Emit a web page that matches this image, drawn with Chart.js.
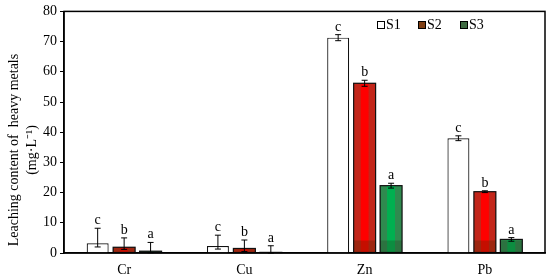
<!DOCTYPE html>
<html><head><meta charset="utf-8">
<script src="https://cdn.jsdelivr.net/npm/chart.js@4.4.0/dist/chart.umd.min.js"></script>
<style>html,body{margin:0;padding:0;background:#fff}</style>
</head><body>
<canvas id="c" width="550" height="279"></canvas>
<script>
const categories = ['Cr', 'Cu', 'Zn', 'Pb'];
const seriesNames = ['S1', 'S2', 'S3'];
const s1 = [3.2, 2.3, 71.3, 38.0];
const s2 = [1.9, 1.5, 56.2, 20.3];
const s3 = [0.6, 0.2, 22.3, 4.5];
const s1ErrUp = [5.0, 3.6, 1.0, 0.8];
const s1ErrDown = [1.2, 1.0, 1.0, 0.8];
const s2ErrUp = [3.1, 2.8, 1.0, 0.3];
const s2ErrDown = [0.7, 1.0, 1.0, 0.3];
const s3ErrUp = [2.9, 2.2, 0.8, 0.6];
const s3ErrDown = [0.5, 0.2, 0.8, 0.6];
const s1Letters = ['c', 'c', 'c', 'c'];
const s2Letters = ['b', 'b', 'b', 'b'];
const s3Letters = ['a', 'a', 'a', 'a'];
const yTitle = 'Leaching content of  heavy metals';
const yUnit = '(mg\u00B7L\u207B\u00B9)';

const FONT = '"Liberation Serif", "Times New Roman", serif';
const errUp = [s1ErrUp, s2ErrUp, s3ErrUp];
const errDown = [s1ErrDown, s2ErrDown, s3ErrDown];
const letters = [s1Letters, s2Letters, s3Letters];
const legendColors = ['#ffffff', '#7e3d12', '#3f6b42'];
const gradStops = [null, ['#c2261a', '#ff0000'], ['#2f8a4f', '#00b050']];

const barStyle = {
  id: 'barStyle',
  afterDatasetDraw(chart, args) {
    const i = args.index;
    if (!gradStops[i]) return;
    const ctx = chart.ctx;
    const meta = chart.getDatasetMeta(i);
    meta.data.forEach(el => {
      const p = el.getProps(['x', 'y', 'base', 'width'], true);
      const l = p.x - p.width / 2, r = p.x + p.width / 2;
      const g = ctx.createLinearGradient(l, 0, r, 0);
      g.addColorStop(0, gradStops[i][0]);
      g.addColorStop(0.3, gradStops[i][0]);
      g.addColorStop(0.34, gradStops[i][1]);
      g.addColorStop(0.66, gradStops[i][1]);
      g.addColorStop(0.7, gradStops[i][0]);
      g.addColorStop(1, gradStops[i][0]);
      ctx.save();
      ctx.fillStyle = g;
      ctx.fillRect(l, p.y, p.width, p.base - p.y);
      const dh = Math.min(12, p.base - p.y);
      ctx.fillStyle = i === 1 ? 'rgba(90,40,0,0.35)' : 'rgba(40,60,30,0.3)';
      ctx.fillRect(l, p.base - dh, p.width, dh);
      ctx.strokeStyle = '#111';
      ctx.lineWidth = 1.2;
      ctx.strokeRect(l, p.y, p.width, p.base - p.y);
      ctx.restore();
    });
  }
};

const extras = {
  id: 'extras',
  afterDraw(chart) {
    const ctx = chart.ctx;
    const ys = chart.scales.y;
    const a = chart.chartArea;
    ctx.save();
    ctx.strokeStyle = '#000';
    ctx.lineWidth = 1.5;
    ctx.strokeRect(a.left, a.top, a.right - a.left, a.bottom - a.top);
    chart.data.datasets.forEach((ds, i) => {
      const meta = chart.getDatasetMeta(i);
      meta.data.forEach((el, j) => {
        const v = ds.data[j];
        const x = el.x;
        const yt = ys.getPixelForValue(v + errUp[i][j]);
        const yb = ys.getPixelForValue(Math.max(0, v - errDown[i][j]));
        ctx.strokeStyle = '#000';
        ctx.lineWidth = 1;
        ctx.beginPath();
        ctx.moveTo(x, yt); ctx.lineTo(x, yb);
        ctx.moveTo(x - 3, yt); ctx.lineTo(x + 3, yt);
        ctx.moveTo(x - 3, yb); ctx.lineTo(x + 3, yb);
        ctx.stroke();
        ctx.fillStyle = '#000';
        ctx.font = '14px ' + FONT;
        ctx.textAlign = 'center';
        ctx.textBaseline = 'alphabetic';
        ctx.fillText(letters[i][j], x, yt - 4);
      });
    });
    const lx = [377, 418, 460];
    ctx.font = '14px ' + FONT;
    ctx.textBaseline = 'middle';
    ctx.textAlign = 'left';
    chart.data.datasets.forEach((ds, i) => {
      ctx.fillStyle = legendColors[i];
      ctx.fillRect(lx[i], 21, 8, 8);
      ctx.strokeStyle = '#000';
      ctx.lineWidth = 1;
      ctx.strokeRect(lx[i] + 0.5, 21.5, 7, 7);
      ctx.fillStyle = '#000';
      ctx.fillText(ds.label, lx[i] + 9, 25.5);
    });
    ctx.translate(14, 150);
    ctx.rotate(-Math.PI / 2);
    ctx.textAlign = 'center';
    ctx.font = '14px ' + FONT;
    ctx.fillText(yTitle, 0, 0);
    ctx.fillText(yUnit, 0, 18);
    ctx.restore();
  }
};

new Chart(document.getElementById('c'), {
  type: 'bar',
  data: {
    labels: categories,
    datasets: [
      { label: seriesNames[0], data: s1, backgroundColor: '#ffffff', borderColor: '#111', borderWidth: 1.2 },
      { label: seriesNames[1], data: s2, backgroundColor: '#ff0000', borderColor: '#111', borderWidth: 1.2 },
      { label: seriesNames[2], data: s3, backgroundColor: '#00b050', borderColor: '#111', borderWidth: 1.2 }
    ]
  },
  options: {
    responsive: false,
    animation: false,
    devicePixelRatio: 1,
    categoryPercentage: 0.66,
    barPercentage: 0.83,
    layout: { padding: { top: 10, right: 5, left: 0, bottom: 0 } },
    plugins: { legend: { display: false }, tooltip: { enabled: false } },
    scales: {
      x: {
        grid: { display: false },
        border: { color: '#000', width: 1.5 },
        ticks: { color: '#000', font: { family: FONT, size: 14 }, padding: 1 },
        afterFit(s) { s.height = 26; }
      },
      y: {
        min: 0, max: 80,
        ticks: { stepSize: 10, color: '#000', font: { family: FONT, size: 14 }, padding: 3 },
        grid: { drawOnChartArea: false, drawTicks: true, tickLength: 4, color: '#000' },
        border: { color: '#000', width: 1.5 },
        afterFit(s) { s.width = 64; }
      }
    }
  },
  plugins: [barStyle, extras]
});
</script>
</body></html>
